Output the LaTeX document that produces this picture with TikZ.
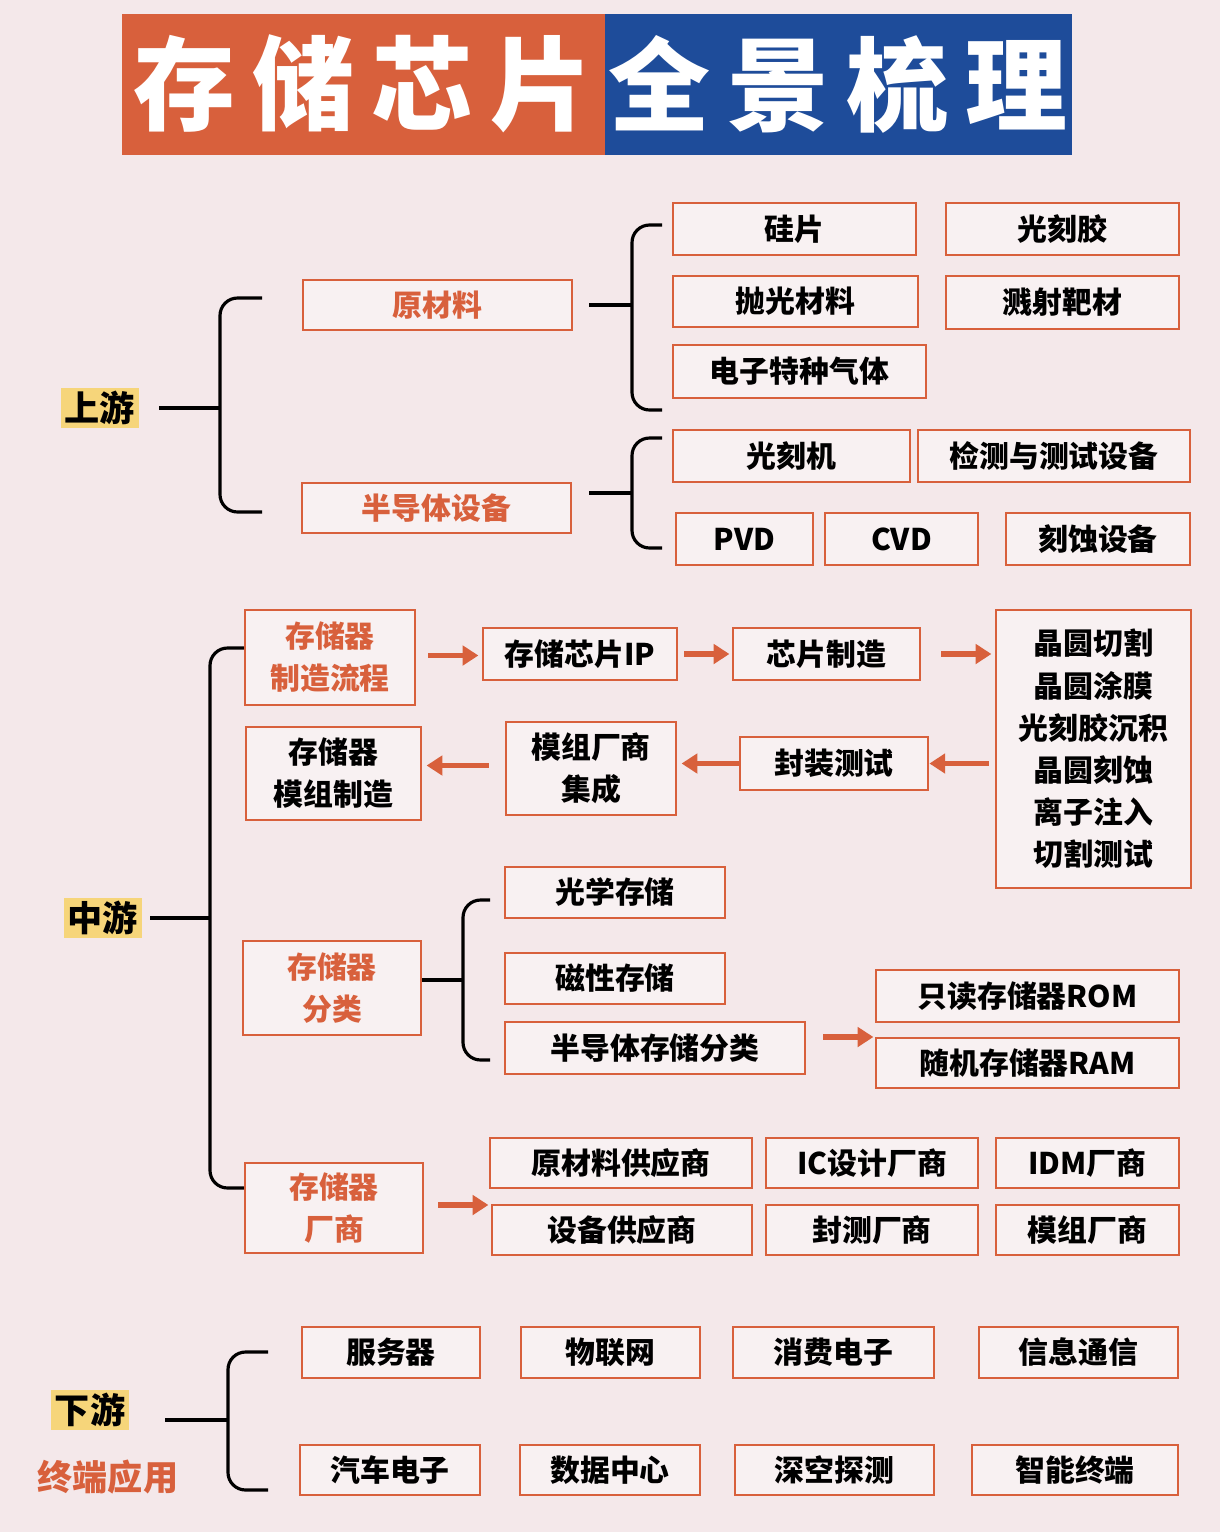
\documentclass[tikz,border=0pt]{standalone}
\usepackage{fontspec}
\setmainfont{Noto Sans CJK SC}
\usetikzlibrary{arrows.meta,positioning}
\definecolor{bg}{HTML}{F4E8EA}
\definecolor{rust}{HTML}{D8603C}
\definecolor{navy}{HTML}{1E4C9A}
\definecolor{hl}{HTML}{F6D57A}
\tikzset{
  box/.style={draw=rust,line width=1.6pt,fill=white!40!bg,inner sep=0pt,align=center,font=\fontsize{17}{24}\selectfont\bfseries},
  cat/.style={box,text=rust},
  lbl/.style={fill=hl,inner sep=2pt,font=\fontsize{20}{24}\selectfont\bfseries},
  brace/.style={line width=1.8pt,rounded corners=10pt},
  arr/.style={-{Triangle[length=9pt,width=11pt]},draw=rust,line width=3pt},
}
% box from pixel corners
\newcommand{\bx}[7][box]{\node[#1,minimum width={(#5-#3)*0.02cm},minimum height={(#6-#4)*0.02cm}] (#2) at ({(#3+#5)/2},{(#4+#6)/2}) {#7};}
\begin{document}
\begin{tikzpicture}[x=0.02cm,y=-0.02cm]
\fill[bg] (0,0) rectangle (1220,1532);
\useasboundingbox (0,0) rectangle (1220,1532);
% title
\fill[rust] (122,14) rectangle (605,155);
\fill[navy] (605,14) rectangle (1072,155);
\node[text=white,font=\fontsize{58}{58}\selectfont\bfseries] (t1) at (363,84) {存\,储\,芯\,片};
\node[text=white,font=\fontsize{58}{58}\selectfont\bfseries] (t2) at (838,84) {全\,景\,梳\,理};

% upstream
\node[lbl] (up) at (100,408) {上游};
\bx[cat]{raw}{303}{280}{572}{330}{原材料}
\bx[cat]{equip}{302}{483}{571}{533}{半导体设备}
\draw[brace] (262,298) -- (220,298) -- (220,512) -- (262,512);
\draw[line width=1.8pt] (up.east)++(20,0) -- (220,408);
\bx{si}{673}{203}{916}{255}{硅片}
\bx{resist}{946}{203}{1179}{255}{光刻胶}
\bx{polish}{673}{276}{918}{327}{抛光材料}
\bx{target}{946}{276}{1179}{329}{溅射靶材}
\bx{gas}{673}{345}{926}{398}{电子特种气体}
\draw[brace] (662,225) -- (632,225) -- (632,410) -- (662,410);
\draw[line width=1.8pt] (raw.east)++(16,0) -- (632,305);
\bx{litho}{673}{430}{910}{482}{光刻机}
\bx{test}{918}{430}{1190}{482}{检测与测试设备}
\bx{pvd}{676}{513}{813}{565}{PVD}
\bx{cvd}{825}{513}{978}{565}{CVD}
\bx{etch}{1006}{513}{1190}{565}{刻蚀设备}
\draw[brace] (662,438) -- (632,438) -- (632,548) -- (662,548);
\draw[line width=1.8pt] (equip.east)++(17,-15) -- (632,493);

% midstream
\node[lbl] (mid) at (103,918) {中游};
\draw[brace] (248,648) -- (210,648) -- (210,1188) -- (248,1188);
\draw[line width=1.8pt] (150,918) -- (210,918);
\bx[cat]{flow}{245}{610}{415}{705}{存储器\\制造流程}
\bx{ip}{483}{628}{677}{680}{存储芯片IP}
\bx{fab}{733}{628}{920}{680}{芯片制造}
\bx{steps}{996}{610}{1191}{888}{晶圆切割\\晶圆涂膜\\光刻胶沉积\\晶圆刻蚀\\离子注入\\切割测试}
\bx{pkg}{740}{737}{928}{790}{封装测试}
\bx{integ}{506}{722}{676}{815}{模组厂商\\集成}
\bx{module}{246}{727}{421}{820}{存储器\\模组制造}
\draw[arr] (flow.east)++(12,-2) -- ++(50,0);
\draw[arr] (ip.east)++(6,0) -- ++(45,0);
\draw[arr] (fab.east)++(20,0) -- ++(50,0);
\draw[arr] (steps.west|-pkg) ++(-6,0) -- (pkg.east);
\draw[arr] (pkg.west) -- ++(-57,0);
\draw[arr] (integ.west)++(-16,-3) -- ++(-62,0);

\bx[cat]{kind}{243}{941}{421}{1035}{存储器\\分类}
\bx{optic}{505}{867}{725}{918}{光学存储}
\bx{magn}{505}{953}{725}{1004}{磁性存储}
\bx{semi}{505}{1022}{805}{1074}{半导体存储分类}
\draw[brace] (490,900) -- (463,900) -- (463,1060) -- (490,1060);
\draw[line width=1.8pt] (kind.east) ++(0,-8) -- (463,980);
\bx{rom}{876}{970}{1179}{1022}{只读存储器ROM}
\bx{ram}{876}{1038}{1179}{1088}{随机存储器RAM}
\draw[arr] (semi.east)++(17,-11) -- ++(50,0);

\bx[cat]{vendor}{245}{1163}{423}{1253}{存储器\\厂商}
\draw[arr] (vendor.east)++(14,-3) -- ++(50,0);
\bx{rawsup}{490}{1138}{752}{1188}{原材料供应商}
\bx{icd}{766}{1138}{978}{1188}{IC设计厂商}
\bx{idm}{996}{1138}{1179}{1188}{IDM厂商}
\bx{eqsup}{492}{1205}{752}{1255}{设备供应商}
\bx{osat}{766}{1205}{978}{1255}{封测厂商}
\bx{modv}{996}{1205}{1179}{1255}{模组厂商}

% downstream
\node[lbl] (down) at (90,1410) {下游};
\node[text=rust,font=\fontsize{20}{24}\selectfont\bfseries] (app) at (108,1477) {终端应用};
\draw[brace] (268,1352) -- (228,1352) -- (228,1490) -- (268,1490);
\draw[line width=1.8pt] (165,1420) -- (228,1420);
\bx{server}{302}{1327}{480}{1378}{服务器}
\bx{iot}{521}{1327}{700}{1378}{物联网}
\bx{consumer}{733}{1327}{934}{1378}{消费电子}
\bx{telecom}{979}{1327}{1178}{1378}{信息通信}
\bx{auto}{300}{1445}{480}{1495}{汽车电子}
\bx{dc}{520}{1445}{700}{1495}{数据中心}
\bx{space}{735}{1445}{934}{1495}{深空探测}
\bx{smart}{972}{1445}{1178}{1495}{智能终端}
\end{tikzpicture}
\end{document}
